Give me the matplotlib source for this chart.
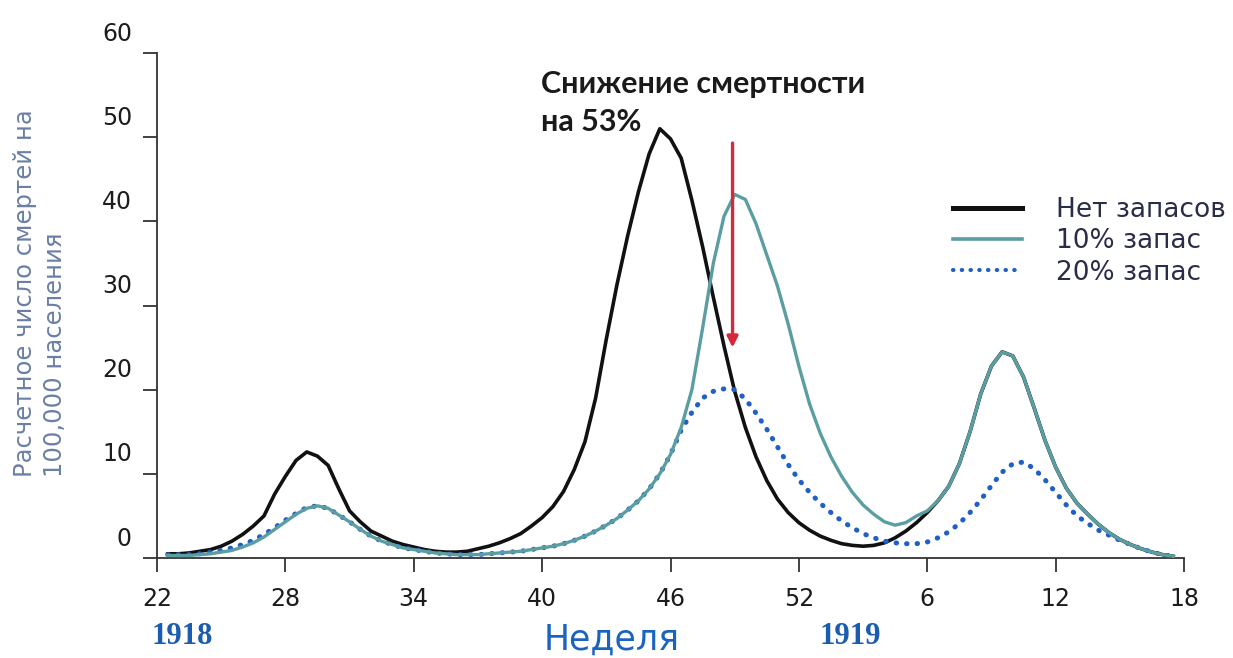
import numpy as np
import matplotlib
matplotlib.use('Agg')
import matplotlib.pyplot as plt
from matplotlib.transforms import ScaledTranslation
from matplotlib.lines import Line2D

# running week number: 22..52 in 1918, then 53 = week 1 of 1919
weeks = np.arange(22.5, 70.0, 0.5)

no_stock = [0.5, 0.5, 0.6, 0.8, 1.0, 1.4, 2.0, 2.8, 3.8, 5.0,
            7.6, 9.7, 11.6, 12.6, 12.1, 11.0, 8.2, 5.6, 4.3, 3.2,
            2.6, 2.0, 1.6, 1.3, 1.0, 0.8, 0.7, 0.7, 0.8, 1.1,
            1.4, 1.8, 2.3, 2.9, 3.8, 4.8, 6.1, 7.9, 10.5, 13.8,
            19.0, 26.0, 32.5, 38.3, 43.5, 48.0, 51.0, 49.8, 47.5, 42.5,
            37.0, 31.0, 25.2, 19.8, 15.5, 12.0, 9.2, 7.0, 5.4, 4.2,
            3.3, 2.6, 2.1, 1.7, 1.5, 1.4, 1.5, 1.8, 2.4, 3.2,
            4.2, 5.4, 6.8, 8.5, 11.2, 15.0, 19.5, 22.8, 24.5, 24.0,
            21.5, 17.8, 14.0, 10.8, 8.3, 6.5, 5.2, 4.0, 3.0, 2.2,
            1.6, 1.1, 0.7, 0.4, 0.2]

stock_10 = [0.3, 0.3, 0.3, 0.4, 0.5, 0.7, 0.9, 1.3, 1.8, 2.5,
            3.4, 4.3, 5.2, 5.9, 6.2, 5.9, 5.1, 4.3, 3.4, 2.6,
            2.0, 1.6, 1.2, 1.0, 0.8, 0.6, 0.5, 0.4, 0.4, 0.4,
            0.5, 0.6, 0.7, 0.8, 1.0, 1.2, 1.4, 1.7, 2.1, 2.6,
            3.2, 3.9, 4.7, 5.7, 6.8, 8.2, 10.0, 12.3, 15.5, 20.0,
            27.3, 35.0, 40.6, 43.2, 42.6, 39.7, 36.0, 32.3, 27.8, 22.8,
            18.3, 14.8, 12.0, 9.7, 7.8, 6.3, 5.2, 4.3, 3.9, 4.2,
            5.0, 5.6, 6.8, 8.5, 11.2, 15.0, 19.5, 22.8, 24.5, 24.0,
            21.5, 17.8, 14.0, 10.8, 8.3, 6.5, 5.2, 4.0, 3.0, 2.2,
            1.6, 1.1, 0.7, 0.4, 0.2]

stock_20 = [0.4, 0.4, 0.4, 0.5, 0.7, 0.9, 1.2, 1.6, 2.1, 2.8,
            3.6, 4.5, 5.3, 6.0, 6.2, 5.9, 5.1, 4.3, 3.4, 2.6,
            2.0, 1.6, 1.2, 1.0, 0.8, 0.6, 0.5, 0.4, 0.4, 0.4,
            0.5, 0.6, 0.7, 0.8, 1.0, 1.2, 1.4, 1.7, 2.1, 2.6,
            3.2, 3.9, 4.7, 5.7, 6.8, 8.2, 10.0, 12.3, 15.2, 17.3,
            19.0, 19.8, 20.1, 20.0, 18.9, 17.2, 15.3, 13.2, 11.1, 9.3,
            7.8, 6.5, 5.4, 4.4, 3.6, 2.9, 2.4, 2.0, 1.8, 1.7,
            1.7, 1.9, 2.4, 3.1, 4.1, 5.4, 6.9, 8.6, 10.2, 11.2,
            11.4, 10.6, 9.3, 7.8, 6.3, 5.0, 4.1, 3.3, 2.7, 2.1,
            1.6, 1.1, 0.7, 0.4, 0.2]

labels = ['Нет запасов', '10% запас', '20% запас']
x_ticks = [22, 28, 34, 40, 46, 52, 58, 64, 70]
x_tick_labels = ['22', '28', '34', '40', '46', '52', '6', '12', '18']
y_ticks = [0, 10, 20, 30, 40, 50, 60]

# red arrow (week 48.9, from ~49 down to 25)
arrow_week = 48.9
arrow_top = 49.3
arrow_tip = 25.0

c_black = '#111111'
c_teal = '#5b9ea2'
c_blue = '#1f5fc8'
c_red = '#d42a3c'

W, H = 1233, 658
fig = plt.figure(figsize=(W / 100, H / 100), dpi=100)
ax = fig.add_axes([157 / W, 1 - 558 / H, (1184 - 157) / W, (558 - 53) / H])

ax.plot(weeks, no_stock, color=c_black, lw=2.6, solid_joinstyle='round', zorder=3)
ax.plot(weeks, stock_20, color=c_blue, lw=3.6, linestyle=(0, (0.1, 2.0)),
        dash_capstyle='round', zorder=4)
ax.plot(weeks, stock_10, color=c_teal, lw=2.4, solid_joinstyle='round', zorder=5)

ax.annotate('', xy=(arrow_week, arrow_tip), xytext=(arrow_week, arrow_top),
            arrowprops=dict(arrowstyle='-|>', color=c_red, lw=2.4,
                            mutation_scale=16, shrinkA=0, shrinkB=0),
            zorder=6)

ax.set_xlim(22, 70)
ax.set_ylim(0, 60)
for s in ['top', 'right']:
    ax.spines[s].set_visible(False)
for s in ['left', 'bottom']:
    ax.spines[s].set_color('#333333')
    ax.spines[s].set_linewidth(1.3)

ax.set_xticks(x_ticks)
ax.set_xticklabels(x_tick_labels)
ax.set_yticks(y_ticks)
ax.set_yticklabels([str(v) for v in y_ticks])
ax.tick_params(direction='out', length=10, width=1.3, color='#333333',
               labelsize=17, labelcolor='#1c1c1c')
ax.tick_params(axis='x', pad=11)
ax.tick_params(axis='y', pad=8)

# y tick labels sit above their tick marks in the original
up = ScaledTranslation(0, 22 / 100, fig.dpi_scale_trans)
for t in ax.yaxis.get_major_ticks():
    t.label1.set_transform(t.label1.get_transform() + up)

# legend
handles = [Line2D([], [], color=c_black, lw=3.6),
           Line2D([], [], color=c_teal, lw=2.6),
           Line2D([], [], color=c_blue, lw=3.0, linestyle=(0, (0.1, 2.0)),
                  dash_capstyle='round')]
ax.legend(handles, labels, loc='upper left',
          bbox_to_anchor=(953 / W, 1 - 197 / H), bbox_transform=fig.transFigure,
          frameon=False, fontsize=19, labelcolor='#2a2d48',
          handlelength=2.6, handletextpad=1.3, labelspacing=0.2,
          borderpad=0, borderaxespad=0)

# texts
fig.text(541 / W, 1 - 70 / H, 'Снижение смертности\nна 53%',
         family=['Lato', 'Open Sans', 'DejaVu Sans'], fontweight='bold',
         fontsize=22, color='#1a1a1a', ha='left', va='top', linespacing=1.45)

fig.text(40 / W, 1 - 477 / H, 'Расчетное число смертей на\n100,000 населения',
         rotation=90, ha='center', va='bottom', multialignment='left',
         fontsize=17.5, color='#6b7fa6', linespacing=1.35)

fig.text(612 / W, 1 - 640 / H, 'Неделя', fontsize=25, color='#1a64c0',
         ha='center', va='center')
fig.text(182 / W, 1 - 637 / H, '1918', family='Liberation Serif',
         fontweight='bold', fontsize=22, color='#1a5cb0', ha='center', va='center')
fig.text(850 / W, 1 - 637 / H, '1919', family='Liberation Serif',
         fontweight='bold', fontsize=22, color='#1a5cb0', ha='center', va='center')

plt.savefig('out.png', dpi=100)
plt.close()
